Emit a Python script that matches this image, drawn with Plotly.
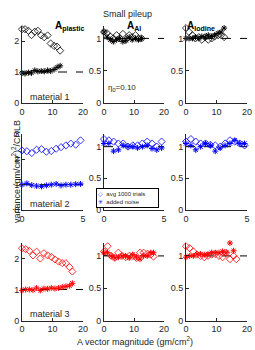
import plotly.graph_objects as go

# ---------------- data ----------------
x_m1 = [0, 1.0, 2.1, 3.1, 4.2, 5.2, 6.3, 7.3, 8.4, 9.4, 10.5, 11.5, 12.5]
x_m2 = [0, 0.4, 0.8, 1.2, 1.6, 2.0, 2.4, 2.8, 3.2, 3.6, 4.0, 4.4, 4.8]
x_m3 = [0, 1.2, 2.4, 3.6, 4.8, 6.0, 7.2, 8.4, 9.6, 10.8, 12.0, 13.2, 14.4, 15.6, 16.5]

# material 1
m1_plastic_avg = [2.38, 2.38, 2.33, 2.19, 2.30, 2.33, 2.18, 2.12, 2.18, 1.92, 1.84, 1.82, 1.69]
m1_plastic_noise = [0.97, 0.95, 0.98, 0.97, 1.05, 1.02, 1.03, 1.02, 1.05, 1.03, 1.08, 1.15, 1.20]
m1_al_avg = [1.10, 1.08, 1.03, 1.00, 1.05, 1.00, 1.07, 0.98, 1.05, 1.02, 1.05, 1.00, 1.00]
m1_al_noise = [1.10, 1.02, 0.98, 0.95, 0.98, 1.00, 0.95, 0.97, 1.02, 0.98, 1.00, 0.98, 1.00]
m1_iod_avg = [1.16, 1.10, 1.05, 1.00, 1.02, 0.98, 1.02, 0.98, 1.00, 1.03, 1.05, 1.05, 1.02]
m1_iod_noise = [1.00, 1.00, 1.00, 1.02, 1.00, 1.03, 1.02, 1.05, 1.03, 1.05, 1.08, 1.10, 1.16]

# material 2
m2_plastic_avg = [2.35, 2.32, 2.25, 2.38, 2.40, 2.30, 2.33, 2.42, 2.48, 2.55, 2.62, 2.58, 2.75]
m2_plastic_noise = [1.00, 1.05, 0.98, 0.95, 0.93, 0.97, 1.00, 1.03, 0.97, 1.00, 1.00, 1.02, 1.03]
m2_al_avg = [1.12, 1.10, 1.08, 1.05, 1.05, 1.00, 1.02, 1.02, 1.05, 1.08, 1.05, 1.00, 1.08]
m2_al_noise = [1.05, 1.05, 0.93, 0.95, 1.02, 1.00, 1.00, 0.98, 1.00, 1.02, 0.97, 0.95, 0.98]
m2_iod_avg = [1.08, 1.12, 1.08, 1.05, 1.05, 1.03, 1.02, 1.00, 1.05, 1.10, 1.08, 1.05, 1.02]
m2_iod_noise = [1.05, 1.02, 0.95, 1.00, 1.05, 1.02, 0.93, 0.98, 1.02, 1.05, 1.10, 1.05, 1.05]

# material 3
m3_plastic_avg = [2.33, 2.30, 2.25, 2.10, 2.22, 2.00, 2.17, 2.10, 2.05, 1.97, 1.90, 1.85, 1.85, 1.72, 1.58]
m3_plastic_noise = [0.97, 1.00, 1.00, 0.98, 1.05, 0.97, 1.03, 1.02, 1.05, 1.03, 1.05, 1.08, 1.10, 1.12, 1.20]
m3_al_avg = [1.07, 1.15, 1.00, 0.97, 1.05, 1.00, 0.98, 1.00, 1.00, 0.97, 1.05, 1.05, 1.03, 1.02, 0.99]
m3_al_noise = [1.05, 1.05, 1.00, 0.97, 0.98, 1.00, 1.00, 0.97, 1.02, 0.98, 0.95, 1.00, 1.00, 1.05, 1.05]
m3_iod_avg = [1.15, 1.12, 1.07, 1.02, 1.00, 0.98, 1.00, 1.02, 1.03, 1.00, 0.98, 1.05, 0.95, 1.00, 0.95]
m3_iod_noise = [0.98, 1.00, 1.00, 1.03, 1.03, 1.02, 1.03, 1.05, 1.05, 1.05, 1.07, 1.05, 1.20, 1.08, 1.22]

col_titles = ["<b>A</b><sub><b>plastic</b></sub>", "<b>A</b><sub><b>Al</b></sub>", "<b>A</b><sub><b>Iodine</b></sub>"]
row_labels = ["material 1", "material 2", "material 3"]
row_colors = ["#000000", "#0000ff", "#ff0000"]
legend_names = ["avg 1000 trials", "added noise"]

rows = [
    (x_m1, [(m1_plastic_avg, m1_plastic_noise), (m1_al_avg, m1_al_noise), (m1_iod_avg, m1_iod_noise)], 20),
    (x_m2, [(m2_plastic_avg, m2_plastic_noise), (m2_al_avg, m2_al_noise), (m2_iod_avg, m2_iod_noise)], 5),
    (x_m3, [(m3_plastic_avg, m3_plastic_noise), (m3_al_avg, m3_al_noise), (m3_iod_avg, m3_iod_noise)], 20),
]
col1_ymax = [2.5, 3, 2.5]
col1_ticks = [[0, 1, 2], [0, 1, 2, 3], [0, 1, 2]]

# ---------------- layout geometry (pixels) ----------------
W, H = 255, 350
col_px = [(22, 83), (104, 164), (186, 247)]
row_px = [(25.5, 103), (134, 210), (243, 320.5)]

fig = go.Figure()
axcolor = "#262626"
font_family = "Liberation Sans, Arial, sans-serif"
layout = {}

for r, (xs, series, xmax) in enumerate(rows):
    color = row_colors[r]
    for c in range(3):
        idx = r * 3 + c + 1
        xa = "x" if idx == 1 else f"x{idx}"
        ya = "y" if idx == 1 else f"y{idx}"
        avg, noise = series[c]
        fig.add_trace(go.Scatter(x=[0, xmax], y=[1, 1], mode="lines",
                                 line=dict(color="black", width=1, dash="dash"),
                                 xaxis=xa, yaxis=ya, showlegend=False, hoverinfo="skip"))
        fig.add_trace(go.Scatter(x=xs, y=avg, mode="markers", name=legend_names[0],
                                 marker=dict(symbol="diamond-open", size=5.5, color=color,
                                             line=dict(width=0.8, color=color)),
                                 xaxis=xa, yaxis=ya, showlegend=False, cliponaxis=False))
        fig.add_trace(go.Scatter(x=xs, y=noise, mode="markers", name=legend_names[1],
                                 marker=dict(symbol="asterisk-open", size=5, color=color,
                                             line=dict(width=1, color=color)),
                                 xaxis=xa, yaxis=ya, showlegend=False, cliponaxis=False))
        x0, x1 = col_px[c]
        y0, y1 = row_px[r]
        if c == 0:
            yr = [0, col1_ymax[r]]
            tv = col1_ticks[r]
            tt = [str(v) for v in tv]
        else:
            yr = [0, 1.2]
            tv = [0, 0.5, 1]
            tt = ["0", "0.5", "1"]
        common = dict(showline=True, linecolor=axcolor, linewidth=1, ticks="inside",
                      ticklen=3, tickcolor=axcolor, showgrid=False, zeroline=False,
                      automargin=False,
                      tickfont=dict(size=9, color=axcolor, family=font_family))
        layout["xaxis" if idx == 1 else f"xaxis{idx}"] = dict(
            domain=[x0 / W, x1 / W], range=[0, xmax],
            tickvals=[0, 10, 20] if xmax == 20 else [0, 5],
            anchor=ya, **common)
        layout["yaxis" if idx == 1 else f"yaxis{idx}"] = dict(
            domain=[1 - y1 / H, 1 - y0 / H], range=yr, tickvals=tv, ticktext=tt,
            anchor=xa, **common)

annotations = []
annotations.append(dict(text="Small pileup", x=127 / W, y=1 - 7 / H, xref="paper", yref="paper",
                        showarrow=False, font=dict(size=9, color=axcolor, family=font_family)))
for c in range(3):
    x0, x1 = col_px[c]
    annotations.append(dict(text=col_titles[c], x=(x0 + x1) / 2 / W, y=1 - 18 / H, xref="paper", yref="paper",
                            showarrow=False, font=dict(size=10, color="black", family=font_family)))
for r in range(3):
    idx = r * 3 + 1
    xa = "x" if idx == 1 else f"x{idx}"
    ya = "y" if idx == 1 else f"y{idx}"
    xm = rows[r][2]
    annotations.append(dict(text=row_labels[r], x=0.1 * xm, y=0.2 * (col1_ymax[r] / 2.5) if r != 1 else 0.25,
                            xref=xa, yref=ya, xanchor="left",
                            showarrow=False, font=dict(size=9, color=axcolor, family=font_family)))
annotations.append(dict(text="η<sub>0</sub>=0.10", x=0.5, y=0.23, xref="x2", yref="y2", xanchor="left",
                        showarrow=False, font=dict(size=8, color=axcolor, family=font_family)))
annotations.append(dict(text="variance (gm/cm<sup>2</sup>)<sup>2</sup>/CRLB", x=8 / W, y=1 - 172 / H,
                        xref="paper", yref="paper", textangle=-90, showarrow=False,
                        font=dict(size=9, color=axcolor, family=font_family)))
annotations.append(dict(text="A vector magnitude (gm/cm<sup>2</sup>)", x=135 / W, y=1 - 349 / H,
                        xref="paper", yref="paper", yanchor="bottom", showarrow=False,
                        font=dict(size=9, color=axcolor, family=font_family)))
# legend box (drawn as a bordered annotation)
legend_text = ('<span style="color:#0000ff">◇</span>  ' + legend_names[0] + '<br>'
               '<span style="color:#0000ff">✳</span>  ' + legend_names[1])
annotations.append(dict(text=legend_text, x=96 / W, y=1 - 188 / H, xref="paper", yref="paper",
                        xanchor="left", yanchor="top", align="left", showarrow=False,
                        width=59, height=16, borderpad=1, bgcolor="white",
                        bordercolor="black", borderwidth=1,
                        font=dict(size=6, color=axcolor, family=font_family)))

fig.update_layout(
    width=W, height=H, margin=dict(l=0, r=0, t=0, b=0),
    paper_bgcolor="white", plot_bgcolor="white",
    annotations=annotations, showlegend=False,
    **layout,
)
fig.write_html("out.html", config={"displayModeBar": False},
               post_script="document.body.style.margin='0';")
